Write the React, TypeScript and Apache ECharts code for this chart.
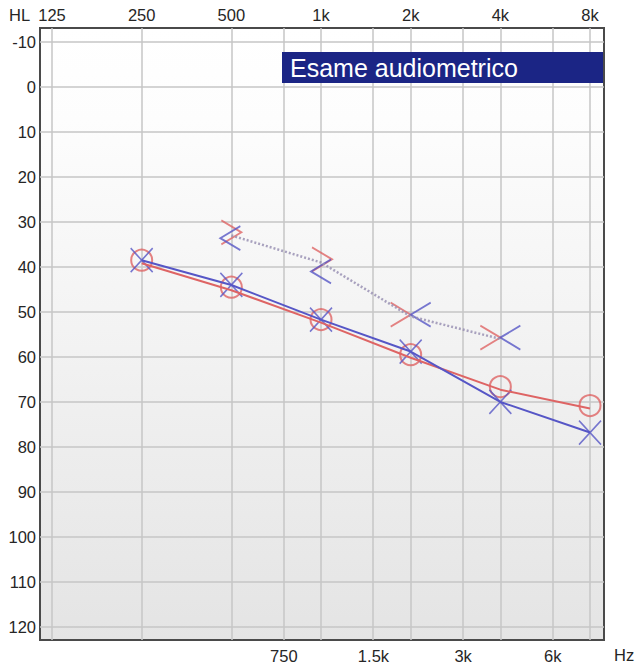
import React, { useEffect, useRef } from "react";
import * as echarts from "echarts";

// ---- data ----
const FREQ_TOP = [125, 250, 500, 1000, 2000, 4000, 8000];
const LABEL_TOP = ["125", "250", "500", "1k", "2k", "4k", "8k"];
const FREQ_BOTTOM = [750, 1500, 3000, 6000];
const LABEL_BOTTOM = ["750", "1.5k", "3k", "6k"];
const HL_TICKS = [-10, 0, 10, 20, 30, 40, 50, 60, 70, 80, 90, 100, 110, 120];

const AIR_FREQ = [250, 500, 1000, 2000, 4000, 8000];
const LEFT_AIR = [38.5, 44, 51.7, 58.8, 70, 76.8]; // blue X
const RIGHT_AIR = [38.5, 44.5, 51.7, 59.5, 66.6, 70.8]; // red O

const BONE_FREQ = [500, 1000, 2000, 4000];
const RIGHT_BONE = [32.3, 38.3, 50.6, 55.7]; // red ">"
const LEFT_BONE = [33.6, 41, 50.6, 55.7]; // blue "<"
const BONE_TREND = [33, 39, 51, 56];

const TITLE = "Esame audiometrico";

// ---- styles ----
const RED = "#de6464";
const BLUE = "#5656c6";
const RED_BONE_DX = [10, 11, 0, 0];
const BLUE_BONE_DX = [-11, -10, 0, 0];
const BONE_W = 20;
const BONE_H = 24;

const oct = (f: number) => Math.log2(f / 125);
const X_MIN = -0.134;
const X_MAX = 6.156;
const Y_MIN = -13.1;
const Y_MAX = 122.9;
const FONT = "'Liberation Sans', Arial, sans-serif";

export default function App() {
  const ref = useRef<HTMLDivElement>(null);
  useEffect(() => {
    const chart = echarts.init(ref.current as HTMLDivElement, null, { renderer: "svg" });
    const fmtFrom = (freqs: number[], labels: string[]) => (v: number) => {
      const i = freqs.findIndex((f) => Math.abs(oct(f) - v) < 1e-3);
      return i >= 0 ? labels[i] : "";
    };
    const labelStyle = { color: "#262626", fontSize: 16.5, fontFamily: FONT };
    const hidden = {
      axisLine: { show: false },
      axisTick: { show: false },
      splitLine: { show: false },
    };
    chart.setOption({
      animation: false,
      grid: [
        {
          left: 40,
          right: 34,
          top: 28,
          bottom: 26,
          show: true,
          backgroundColor: new echarts.graphic.LinearGradient(0, 0, 0, 1, [
            { offset: 0, color: "#ffffff" },
            { offset: 0.15, color: "#fdfdfd" },
            { offset: 1, color: "#e4e4e4" },
          ]),
          borderColor: "#4a4a4a",
          borderWidth: 2,
        },
        { left: 40, right: 34, top: 31, bottom: 23, show: false },
      ],
      xAxis: [
        {
          type: "value",
          gridIndex: 0,
          position: "top",
          min: X_MIN,
          max: X_MAX,
          ...hidden,
          axisLabel: {
            ...labelStyle,
            customValues: FREQ_TOP.map(oct),
            formatter: fmtFrom(FREQ_TOP, LABEL_TOP),
            margin: 5,
          },
        },
        {
          type: "value",
          gridIndex: 0,
          position: "bottom",
          min: X_MIN,
          max: X_MAX,
          ...hidden,
          axisLabel: {
            ...labelStyle,
            customValues: FREQ_BOTTOM.map(oct),
            formatter: fmtFrom(FREQ_BOTTOM, LABEL_BOTTOM),
            margin: 7,
          },
        },
        { type: "value", gridIndex: 1, show: false, min: X_MIN, max: X_MAX },
      ],
      yAxis: [
        {
          type: "value",
          gridIndex: 0,
          inverse: true,
          min: Y_MIN,
          max: Y_MAX,
          ...hidden,
          axisLabel: { ...labelStyle, customValues: HL_TICKS, margin: 4 },
        },
        { type: "value", gridIndex: 1, inverse: true, show: false, min: Y_MIN, max: Y_MAX },
      ],
      graphic: [
        {
          type: "text",
          left: 9,
          top: 6,
          style: { text: "HL", fill: "#262626", font: `16.5px ${FONT}` },
        },
        {
          type: "text",
          left: 614,
          top: 646,
          style: { text: "Hz", fill: "#262626", font: `16.5px ${FONT}` },
        },
        {
          type: "rect",
          shape: { x: 282, y: 52, width: 321, height: 31 },
          style: { fill: "#1b2585" },
          z: 10,
        },
        {
          type: "text",
          x: 290,
          y: 68,
          style: {
            text: TITLE,
            fill: "#ffffff",
            font: `25px ${FONT}`,
            verticalAlign: "middle",
          },
          z: 11,
        },
      ],
      series: [
        {
          type: "line",
          name: "bone-trend",
          xAxisIndex: 0,
          yAxisIndex: 0,
          data: BONE_FREQ.map((f, i) => [oct(f), BONE_TREND[i]]),
          symbol: "none",
          lineStyle: { color: "#9a92b4", width: 2.5, type: [2, 2], opacity: 0.85 },
          markLine: {
            silent: true,
            z: 1,
            symbol: "none",
            label: { show: false },
            lineStyle: { color: "#c6c6c6", width: 1.5, type: "solid" },
            data: [
              ...[...FREQ_TOP, ...FREQ_BOTTOM].map((f) => ({ xAxis: oct(f) })),
              ...HL_TICKS.map((v) => ({ yAxis: v })),
            ],
          },
        },
        {
          type: "line",
          name: "right-air-line",
          xAxisIndex: 2,
          yAxisIndex: 1,
          data: AIR_FREQ.map((f, i) => [oct(f), RIGHT_AIR[i]]),
          symbol: "none",
          lineStyle: { color: RED, width: 2 },
        },
        {
          type: "line",
          name: "left-air-line",
          xAxisIndex: 0,
          yAxisIndex: 0,
          data: AIR_FREQ.map((f, i) => [oct(f), LEFT_AIR[i]]),
          symbol: "none",
          lineStyle: { color: BLUE, width: 2 },
        },
        {
          type: "scatter",
          name: "right-air",
          xAxisIndex: 0,
          yAxisIndex: 0,
          data: AIR_FREQ.map((f, i) => [oct(f), RIGHT_AIR[i]]),
          symbol: "circle",
          symbolSize: 21,
          itemStyle: { color: "transparent", borderColor: RED, borderWidth: 2 },
        },
        {
          type: "scatter",
          name: "left-air",
          xAxisIndex: 0,
          yAxisIndex: 0,
          data: AIR_FREQ.map((f, i) => [oct(f), LEFT_AIR[i]]),
          symbol: "path://M0,0L1,1M1,0L0,1",
          symbolSize: [22, 24],
          itemStyle: { color: "transparent", borderColor: BLUE, borderWidth: 1.6 },
        },
        {
          type: "scatter",
          name: "right-bone",
          xAxisIndex: 0,
          yAxisIndex: 0,
          data: BONE_FREQ.map((f, i) => ({
            value: [oct(f), RIGHT_BONE[i]],
            symbolOffset: [RED_BONE_DX[i] - BONE_W / 2, 0],
          })),
          symbol: "path://M0,0L1,0.5L0,1",
          symbolSize: [BONE_W, BONE_H],
          itemStyle: { color: "transparent", borderColor: RED, borderWidth: 1.8 },
        },
        {
          type: "scatter",
          name: "left-bone",
          xAxisIndex: 0,
          yAxisIndex: 0,
          data: BONE_FREQ.map((f, i) => ({
            value: [oct(f), LEFT_BONE[i]],
            symbolOffset: [BLUE_BONE_DX[i] + BONE_W / 2, 0],
          })),
          symbol: "path://M1,0L0,0.5L1,1",
          symbolSize: [BONE_W, BONE_H],
          itemStyle: { color: "transparent", borderColor: BLUE, borderWidth: 1.8 },
        },
      ],
    });
    return () => chart.dispose();
  }, []);
  return (
    <div
      ref={ref}
      style={{ position: "fixed", left: 0, top: 0, width: 638, height: 666, background: "#fff" }}
    />
  );
}
